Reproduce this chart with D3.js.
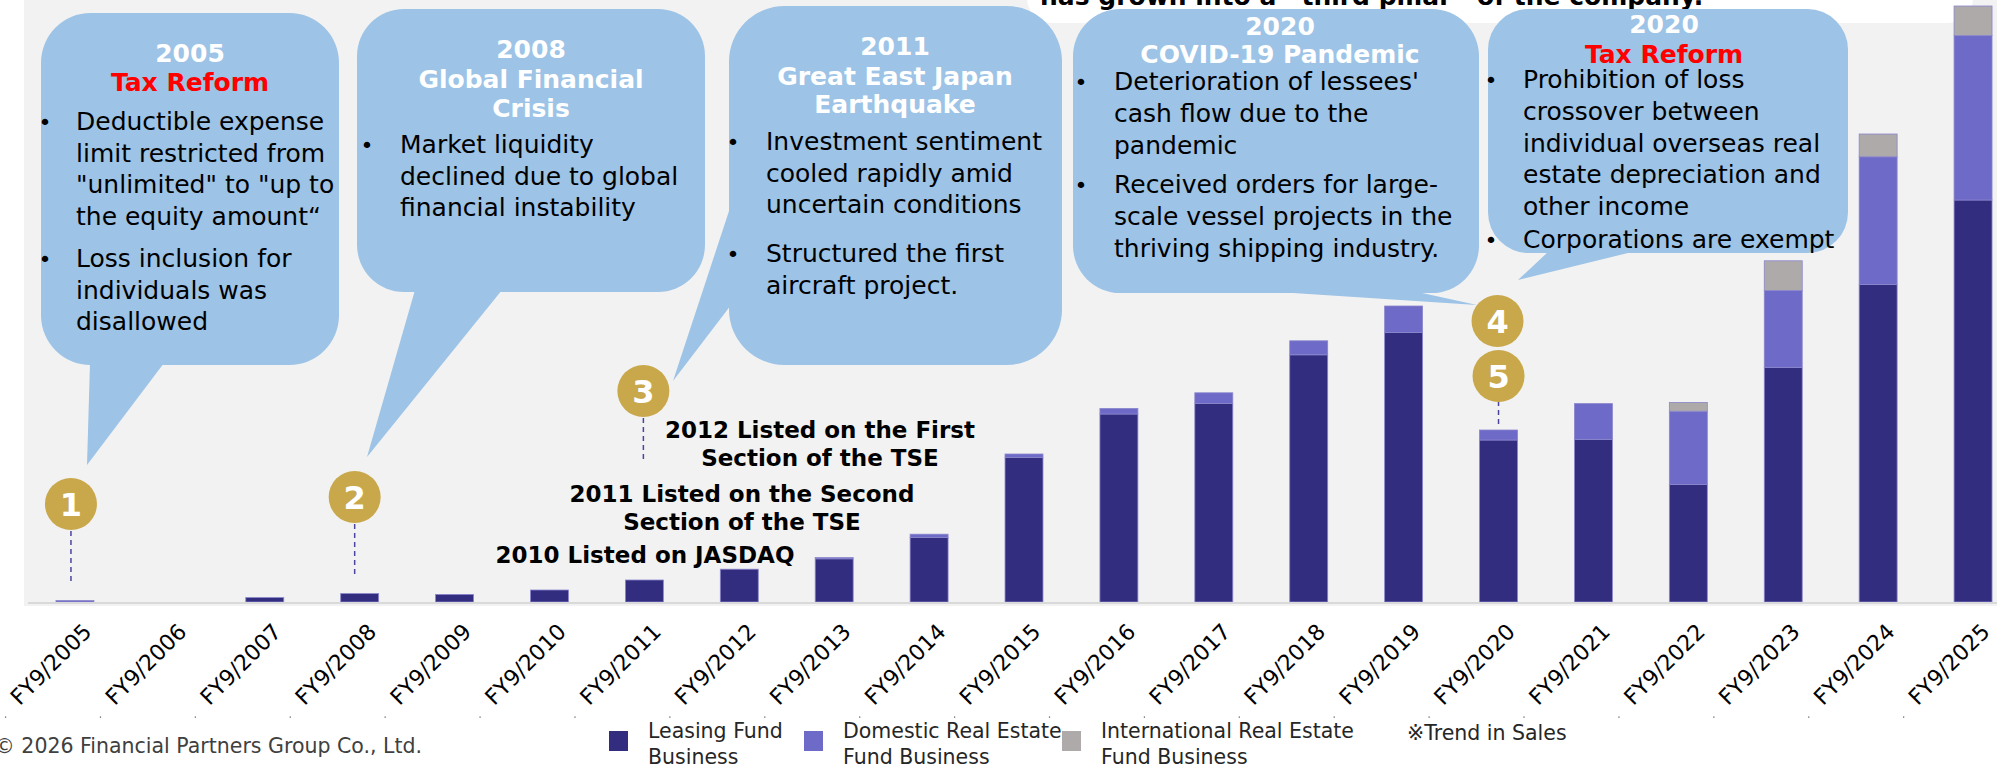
<!DOCTYPE html>
<html>
<head>
<meta charset="utf-8">
<script src="https://cdn.jsdelivr.net/npm/d3@7"></script>
<style>
    html, body { margin: 0; padding: 0; background: #fff; }
    svg { display: block; font-family: "DejaVu Sans", Verdana, sans-serif; }
</style>
</head>
<body>
<svg id="chart" width="1997" height="764"></svg>
<script>
/*global d3*/

// sales trend by business (relative units)
var fiscalYears = ['FY9/2005', 'FY9/2006', 'FY9/2007', 'FY9/2008', 'FY9/2009', 'FY9/2010', 'FY9/2011',
    'FY9/2012', 'FY9/2013', 'FY9/2014', 'FY9/2015', 'FY9/2016', 'FY9/2017', 'FY9/2018', 'FY9/2019',
    'FY9/2020', 'FY9/2021', 'FY9/2022', 'FY9/2023', 'FY9/2024', 'FY9/2025'];
var leasingFund = [0, 0, 1.1, 2.1, 1.9, 3.0, 5.5, 8.2, 10.8, 16.1, 36.1, 47.0, 49.6, 61.8, 67.4,
    40.5, 40.6, 29.4, 58.6, 79.4, 100.5];
var domesticRealEstate = [0.35, 0, 0, 0, 0, 0, 0, 0, 0.3, 0.85, 0.9, 1.4, 2.7, 3.5, 6.6,
    2.5, 9.0, 18.3, 19.3, 31.9, 41.1];
var internationalRealEstate = [0, 0, 0, 0, 0, 0, 0, 0, 0, 0, 0, 0, 0, 0, 0,
    0, 0, 2.2, 7.4, 5.7, 7.4];

var legendLabels = [['Leasing Fund', 'Business'], ['Domestic Real Estate', 'Fund Business'],
    ['International Real Estate', 'Fund Business']];
var salesNote = '\u203BTrend in Sales';
var copyright = '\u00A9 2026 Financial Partners Group Co., Ltd.';
var headline = 'has grown into a \u201Cthird pillar\u201D of the company.';

var listingNotes = [['2012 Listed on the First', 'Section of the TSE'],
    ['2011 Listed on the Second', 'Section of the TSE'],
    ['2010 Listed on JASDAQ']];

var eventYears = ['FY9/2005', 'FY9/2008', 'FY9/2011', 'FY9/2020', 'FY9/2020'];
var eventTitles = [
    ['2005', 'Tax Reform'],
    ['2008', 'Global Financial', 'Crisis'],
    ['2011', 'Great East Japan', 'Earthquake'],
    ['2020', 'COVID-19 Pandemic'],
    ['2020', 'Tax Reform']
];
var eventBullets = [
    [['Deductible expense', 'limit restricted from', '"unlimited" to "up to', 'the equity amount\u201C'],
        ['Loss inclusion for', 'individuals was', 'disallowed']],
    [['Market liquidity', 'declined due to global', 'financial instability']],
    [['Investment sentiment', 'cooled rapidly amid', 'uncertain conditions'],
        ['Structured the first', 'aircraft project.']],
    [['Deterioration of lessees\'', 'cash flow due to the', 'pandemic'],
        ['Received orders for large-', 'scale vessel projects in the', 'thriving shipping industry.']],
    [['Prohibition of loss', 'crossover between', 'individual overseas real', 'estate depreciation and', 'other income'],
        ['Corporations are exempt']]
];

(function (d3) {
    'use strict';

    var svg = d3.select('#chart'),
        baseY = 602,
        keys = ['leasing', 'domestic', 'international'],
        colors = {leasing: '#332d80', domestic: '#6e6ac8', international: '#aeaaaa'},
        gold = '#c8a84b',
        bubbleFill = '#9dc3e6',
        x,
        y,
        rows,
        layers,
        axis,
        axisG,
        bubbles,
        markers,
        legend;

    // speech bubble geometry (box + tail polygon) and text placement
    var bubbleBoxes = [
        {x: 41, y: 13, w: 298, h: 352, tail: [[90, 363], [164, 363], [87, 465]]},
        {x: 357, y: 9, w: 348, h: 283, tail: [[415, 290], [502, 290], [367, 457]]},
        {x: 729, y: 6, w: 333, h: 359, tail: [[731, 205], [731, 305], [673, 381]]},
        {x: 1073, y: 9, w: 406, h: 284, tail: [[1262, 291], [1413, 291], [1477, 305]]},
        {x: 1488, y: 9, w: 360, h: 244, tail: [[1549, 251], [1636, 251], [1518, 280]]}
    ];
    var bubbleText = [
        {cx: 190, titleY: [62, 91], bulletX: 45, textX: 76, paraY: [130, 267], step: 31.5},
        {cx: 531, titleY: [58, 88, 117], bulletX: 367, textX: 400, paraY: [153], step: 31.5},
        {cx: 895, titleY: [55, 85, 113], bulletX: 733, textX: 766, paraY: [150, 262], step: 31.5},
        {cx: 1280, titleY: [35, 63], bulletX: 1081, textX: 1114, paraY: [90, 193], step: 32},
        {cx: 1664, titleY: [33, 63], bulletX: 1491, textX: 1523, paraY: [88, 248], step: 31.8}
    ];
    var markerPos = [
        {dx: -4, cy: 504, top: 531, bottom: 582},
        {dx: -5, cy: 497, top: 524, bottom: 578},
        {dx: -1, cy: 391, top: 418, bottom: 463},
        {dx: -1, cy: 321, top: null, bottom: null},
        {dx: 0, cy: 376, top: 401, bottom: 424}
    ];
    var notePos = [
        {cx: 820, y: [438, 466]},
        {cx: 742, y: [502, 530]},
        {cx: 645, y: [563]}
    ];
    var legendX = [609, 804, 1062];

    rows = fiscalYears.map(function (fy, i) {
        return {
            year: fy,
            leasing: leasingFund[i],
            domestic: domesticRealEstate[i],
            international: internationalRealEstate[i]
        };
    });

    x = d3.scaleBand()
        .domain(fiscalYears)
        .range([27.5, 2020.5])
        .paddingInner(0.6)
        .paddingOuter(0.3);

    y = d3.scaleLinear()
        .domain([0, 150])
        .range([baseY, 2]);

    function center(fy) {
        return x(fy) + x.bandwidth() / 2;
    }

    // plot background
    svg.append('rect')
        .attr('x', 24).attr('y', 0)
        .attr('width', 1980).attr('height', 606)
        .attr('fill', '#f2f2f2');

    // headline box, cut off at the top
    svg.append('rect')
        .attr('x', 1027).attr('y', -40)
        .attr('width', 946).attr('height', 63)
        .attr('rx', 25)
        .attr('fill', '#fff');
    svg.append('text')
        .attr('x', 1040).attr('y', 5)
        .attr('font-size', 25)
        .attr('font-weight', 'bold')
        .attr('fill', '#000')
        .text(headline);

    // stacked bars
    layers = d3.stack().keys(keys)(rows);

    svg.append('g')
        .selectAll('g')
        .data(layers)
        .enter()
      .append('g')
        .attr('fill', function (d) { return colors[d.key]; })
        .selectAll('rect')
        .data(function (d) { return d; })
        .enter()
      .append('rect')
        .attr('x', function (d) { return x(d.data.year); })
        .attr('y', function (d) { return y(d[1]); })
        .attr('width', x.bandwidth())
        .attr('height', function (d) { return y(d[0]) - y(d[1]); })
        .attr('stroke', '#8a86cc')
        .attr('stroke-width', function (d) { return y(d[0]) - y(d[1]) > 0 ? 0.8 : 0; });

    svg.append('line')
        .attr('x1', 28).attr('x2', 1997)
        .attr('y1', baseY + 1).attr('y2', baseY + 1)
        .attr('stroke', '#d9d9d9')
        .attr('stroke-width', 2);

    // category axis
    axis = d3.axisBottom(x).tickSize(0).tickPadding(0);
    axisG = svg.append('g')
        .attr('transform', 'translate(0,' + baseY + ')')
        .call(axis);
    axisG.select('.domain').remove();
    axisG.selectAll('text')
        .attr('x', 0).attr('y', 0).attr('dy', null)
        .attr('font-family', '"DejaVu Sans", Verdana, sans-serif')
        .attr('font-size', 22)
        .attr('fill', '#000')
        .attr('text-anchor', 'end')
        .attr('transform', 'translate(18,31) rotate(-45)');

    svg.append('g')
        .selectAll('rect')
        .data(fiscalYears)
        .enter()
      .append('rect')
        .attr('x', function (d) { return center(d) - 70; })
        .attr('y', 716.5)
        .attr('width', 1.2).attr('height', 1.2)
        .attr('fill', '#555');

    // speech bubbles
    bubbles = svg.append('g')
        .selectAll('g')
        .data(bubbleBoxes)
        .enter()
      .append('g');

    bubbles.append('rect')
        .attr('x', function (d) { return d.x; })
        .attr('y', function (d) { return d.y; })
        .attr('width', function (d) { return d.w; })
        .attr('height', function (d) { return d.h; })
        .attr('rx', function (d) { return Math.min(d.w, d.h) / 6; })
        .attr('fill', bubbleFill);

    bubbles.append('path')
        .attr('d', function (d) { return 'M' + d.tail.join('L') + 'Z'; })
        .attr('fill', bubbleFill);

    bubbles.each(function (box, i) {
        var g = d3.select(this),
            t = bubbleText[i];

        g.selectAll('text.title')
            .data(eventTitles[i])
            .enter()
          .append('text')
            .attr('class', 'title')
            .attr('x', t.cx)
            .attr('y', function (d, j) { return t.titleY[j]; })
            .attr('text-anchor', 'middle')
            .attr('font-size', 25)
            .attr('font-weight', 'bold')
            .attr('fill', function (d) { return d === 'Tax Reform' ? '#ff0000' : '#fff'; })
            .text(function (d) { return d; });

        eventBullets[i].forEach(function (para, p) {
            var y0 = t.paraY[p];
            g.append('text')
                .attr('x', t.bulletX)
                .attr('y', y0)
                .attr('text-anchor', 'middle')
                .attr('font-size', 22)
                .attr('fill', '#000')
                .text('\u2022');
            g.selectAll('text.p' + p)
                .data(para)
                .enter()
              .append('text')
                .attr('class', 'p' + p)
                .attr('x', t.textX)
                .attr('y', function (d, j) { return y0 + j * t.step; })
                .attr('font-size', 25)
                .attr('fill', '#000')
                .text(function (d) { return d; });
        });
    });

    // numbered markers with dashed leaders down to the bars
    markers = svg.append('g')
        .selectAll('g')
        .data(eventYears.map(function (fy, i) {
            return {n: i + 1, year: fy, pos: markerPos[i]};
        }))
        .enter()
      .append('g')
        .attr('transform', function (d) {
            return 'translate(' + (center(d.year) + d.pos.dx) + ',0)';
        });

    markers.filter(function (d) { return d.pos.top !== null; })
      .append('line')
        .attr('y1', function (d) { return d.pos.top; })
        .attr('y2', function (d) { return d.pos.bottom; })
        .attr('stroke', '#4b45a0')
        .attr('stroke-width', 1.5)
        .attr('stroke-dasharray', '5,4');

    markers.append('circle')
        .attr('cy', function (d) { return d.pos.cy; })
        .attr('r', 26)
        .attr('fill', gold);

    markers.append('text')
        .attr('y', function (d) { return d.pos.cy + 11.5; })
        .attr('text-anchor', 'middle')
        .attr('font-size', 32)
        .attr('font-weight', 'bold')
        .attr('fill', '#fff')
        .text(function (d) { return d.n; });

    // listing milestones
    svg.append('g')
        .selectAll('text')
        .data(d3.merge(listingNotes.map(function (lines, i) {
            return lines.map(function (s, j) {
                return {text: s, x: notePos[i].cx, y: notePos[i].y[j]};
            });
        })))
        .enter()
      .append('text')
        .attr('x', function (d) { return d.x; })
        .attr('y', function (d) { return d.y; })
        .attr('text-anchor', 'middle')
        .attr('font-size', 23)
        .attr('font-weight', 'bold')
        .attr('fill', '#000')
        .text(function (d) { return d.text; });

    // legend
    legend = svg.append('g')
        .selectAll('g')
        .data(keys)
        .enter()
      .append('g')
        .attr('transform', function (d, i) { return 'translate(' + legendX[i] + ',0)'; });

    legend.append('rect')
        .attr('y', 731)
        .attr('width', 19).attr('height', 20)
        .attr('fill', function (d) { return colors[d]; });

    legend.each(function (d, i) {
        d3.select(this).selectAll('text')
            .data(legendLabels[i])
            .enter()
          .append('text')
            .attr('x', 39)
            .attr('y', function (s, j) { return 738 + j * 26; })
            .attr('font-size', 20.5)
            .attr('fill', '#262626')
            .text(function (s) { return s; });
    });

    svg.append('text')
        .attr('x', 1407).attr('y', 740)
        .attr('font-size', 20.5)
        .attr('fill', '#262626')
        .text(salesNote);

    svg.append('text')
        .attr('x', 422).attr('y', 753)
        .attr('text-anchor', 'end')
        .attr('font-size', 20.5)
        .attr('fill', '#404040')
        .text(copyright);

}(window.d3));
</script>
</body>
</html>
